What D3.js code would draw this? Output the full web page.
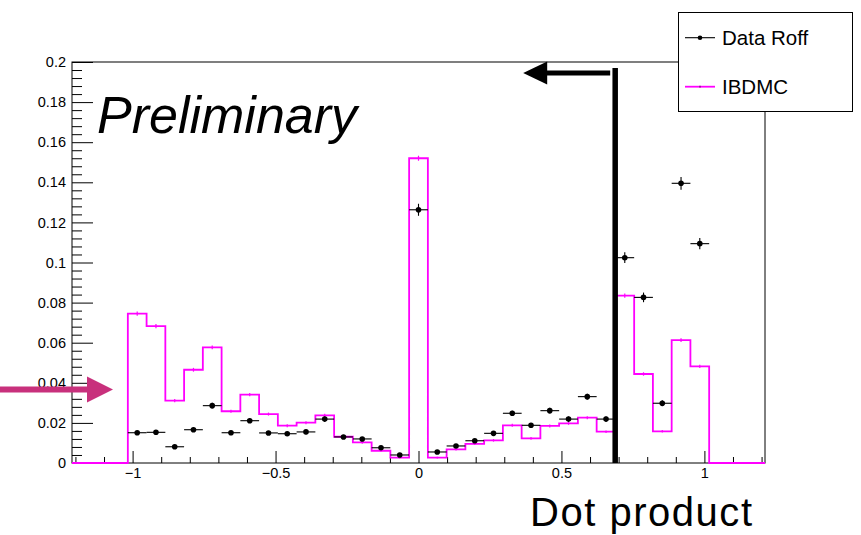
<!DOCTYPE html>
<html>
<head>
<meta charset="utf-8">
<script src="https://cdn.jsdelivr.net/npm/d3@7"></script>
<style>
  html, body { margin: 0; padding: 0; background: #fff; }
  svg { display: block; font-family: "Liberation Sans", Arial, Helvetica, sans-serif; }
</style>
</head>
<body>
<svg id="chart" width="861" height="535"></svg>
<script>
// Histogram binning (31 bins over the dot-product range)
const nBins = 31;
const binLow = -1.0167;
const binHigh = 1.0167;

// IBD Monte Carlo, normalised bin contents
const mcValues = [
  0.0745, 0.0683, 0.0311, 0.0465, 0.0577, 0.0258, 0.0341, 0.0244, 0.0186, 0.0201,
  0.0238, 0.0131, 0.0103, 0.0061, 0.0027, 0.1520, 0.0027, 0.0068, 0.0095, 0.0113,
  0.0188, 0.0123, 0.0185, 0.0198, 0.0226, 0.0156, 0.0835, 0.0444, 0.0158, 0.0613,
  0.0482
];
const mcErrors = [
  0.0008, 0.0008, 0.0006, 0.0007, 0.0007, 0.0005, 0.0006, 0.0005, 0.0005, 0.0005,
  0.0005, 0.0004, 0.0004, 0.0003, 0.0002, 0.0010, 0.0002, 0.0003, 0.0003, 0.0004,
  0.0005, 0.0004, 0.0005, 0.0005, 0.0005, 0.0004, 0.0008, 0.0006, 0.0004, 0.0007,
  0.0006
];

// Reactor-off data, normalised bin contents and statistical errors
const dataValues = [
  0.0151, 0.0153, 0.0081, 0.0166, 0.0286, 0.0151, 0.0211, 0.0150, 0.0146, 0.0155,
  0.0219, 0.0130, 0.0120, 0.0076, 0.0040, 0.1263, 0.0055, 0.0085, 0.0111, 0.0148,
  0.0248, 0.0188, 0.0261, 0.0219, 0.0331, 0.0219, 0.1024, 0.0826, 0.0298, 0.1395,
  0.1094
];
const dataErrors = [
  0.0010, 0.0011, 0.0008, 0.0011, 0.0014, 0.0010, 0.0012, 0.0010, 0.0010, 0.0011,
  0.0013, 0.0010, 0.0009, 0.0007, 0.0005, 0.0030, 0.0006, 0.0008, 0.0009, 0.0010,
  0.0013, 0.0012, 0.0014, 0.0013, 0.0015, 0.0013, 0.0027, 0.0024, 0.0015, 0.0032,
  0.0028
];

// Axis ticks
const xMajorTicks = [-1, -0.5, 0, 0.5, 1];
const xMinorTicks = [-1.2, -1.1, -0.9, -0.8, -0.7, -0.6, -0.4, -0.3, -0.2, -0.1,
                     0.1, 0.2, 0.3, 0.4, 0.6, 0.7, 0.8, 0.9, 1.1, 1.2];
const yMajorTicks = [0, 0.02, 0.04, 0.06, 0.08, 0.1, 0.12, 0.14, 0.16, 0.18, 0.2];
const yMinorTicks = d3.range(0, 0.2001, 0.004).filter(v => Math.abs(v / 0.02 - Math.round(v / 0.02)) > 1e-6);
const yTickLabels = ["0", "0.02", "0.04", "0.06", "0.08", "0.1", "0.12", "0.14", "0.16", "0.18", "0.2"];

// Selection cut on the dot product
const cutValue = 0.688;

const legendLabels = ["Data Roff", "IBDMC"];
const mcColor = "#ff00ff";
const arrowColor = "#c8307c";

const svg = d3.select("#chart");
const frame = { left: 72, right: 765, top: 62, bottom: 463 };

const x = d3.scaleLinear().domain([-1.212, 1.212]).range([frame.left, frame.right]);
const y = d3.scaleLinear().domain([0, 0.2]).range([frame.bottom, frame.top]);

const binWidth = (binHigh - binLow) / nBins;
const edges = d3.range(nBins + 1).map(i => binLow + i * binWidth);
const centers = d3.range(nBins).map(i => binLow + (i + 0.5) * binWidth);

// Frame
svg.append("rect")
  .attr("x", frame.left).attr("y", frame.top)
  .attr("width", frame.right - frame.left).attr("height", frame.bottom - frame.top)
  .attr("fill", "none").attr("stroke", "#000").attr("stroke-width", 1);

// X axis: major and minor ticks pointing inward
const xAxisMajor = d3.axisBottom(x).tickValues(xMajorTicks).tickSize(-12).tickPadding(5)
  .tickFormat(d3.format("~g"));
const xAxisMinor = d3.axisBottom(x).tickValues(xMinorTicks).tickSize(-6).tickFormat("");
const gxMinor = svg.append("g").attr("transform", `translate(0,${frame.bottom})`).call(xAxisMinor);
const gx = svg.append("g").attr("transform", `translate(0,${frame.bottom})`).call(xAxisMajor);
[gx, gxMinor].forEach(g => {
  g.select(".domain").remove();
  g.selectAll(".tick line").attr("stroke", "#000");
});
gx.selectAll(".tick text").attr("font-size", 14.5).attr("fill", "#000")
  .attr("font-family", "Liberation Sans, Arial, sans-serif");

// Y axis: major and minor ticks pointing inward
const yAxisMajor = d3.axisLeft(y).tickValues(yMajorTicks).tickSize(-21).tickPadding(6)
  .tickFormat((d, i) => yTickLabels[i]);
const yAxisMinor = d3.axisLeft(y).tickValues(yMinorTicks).tickSize(-10).tickFormat("");
const gyMinor = svg.append("g").attr("transform", `translate(${frame.left},0)`).call(yAxisMinor);
const gy = svg.append("g").attr("transform", `translate(${frame.left},0)`).call(yAxisMajor);
[gy, gyMinor].forEach(g => {
  g.select(".domain").remove();
  g.selectAll(".tick line").attr("stroke", "#000");
});
gy.selectAll(".tick text").attr("font-size", 14.5).attr("fill", "#000")
  .attr("font-family", "Liberation Sans, Arial, sans-serif");

// MC histogram as a step outline, including empty regions either side
const stepPts = [[x.domain()[0], 0], [edges[0], 0]];
mcValues.forEach((v, i) => {
  stepPts.push([edges[i], v]);
  stepPts.push([edges[i + 1], v]);
});
stepPts.push([edges[nBins], 0]);
stepPts.push([x.domain()[1], 0]);
svg.append("path")
  .attr("d", d3.line().x(d => x(d[0])).y(d => y(d[1]))(stepPts))
  .attr("fill", "none").attr("stroke", mcColor).attr("stroke-width", 1.8);

// MC error ticks
svg.append("g").selectAll("line").data(mcValues).join("line")
  .attr("x1", (d, i) => x(centers[i])).attr("x2", (d, i) => x(centers[i]))
  .attr("y1", (d, i) => y(d + mcErrors[i]) - 0.5).attr("y2", (d, i) => y(d - mcErrors[i]) + 0.5)
  .attr("stroke", mcColor).attr("stroke-width", 1.2);

// Data points with error bars
const gData = svg.append("g");
dataValues.forEach((v, i) => {
  const cx = x(centers[i]), cy = y(v);
  gData.append("line")
    .attr("x1", x(edges[i])).attr("x2", x(edges[i + 1]))
    .attr("y1", cy).attr("y2", cy)
    .attr("stroke", "#000").attr("stroke-width", 1.1);
  gData.append("line")
    .attr("x1", cx).attr("x2", cx)
    .attr("y1", y(v + dataErrors[i])).attr("y2", y(v - dataErrors[i]))
    .attr("stroke", "#000").attr("stroke-width", 1.1);
  gData.append("circle").attr("cx", cx).attr("cy", cy).attr("r", 2.8).attr("fill", "#000");
});

// Cut line with arrow pointing to the rejected side
const cutX = x(cutValue);
const arrowY = frame.top + 11;
svg.append("line")
  .attr("x1", cutX).attr("x2", cutX).attr("y1", frame.top + 6).attr("y2", frame.bottom)
  .attr("stroke", "#000").attr("stroke-width", 5.5);
svg.append("line")
  .attr("x1", cutX - 5).attr("x2", cutX - 70).attr("y1", arrowY).attr("y2", arrowY)
  .attr("stroke", "#000").attr("stroke-width", 5);
svg.append("path")
  .attr("d", `M${cutX - 92},${arrowY} L${cutX - 68},${arrowY - 11.5} L${cutX - 68},${arrowY + 11.5} Z`)
  .attr("fill", "#000");

// Arrow marking the level on the y axis
const markY = y(0.0366);
svg.append("line")
  .attr("x1", 0).attr("x2", 90).attr("y1", markY).attr("y2", markY)
  .attr("stroke", arrowColor).attr("stroke-width", 6);
svg.append("path")
  .attr("d", `M113,${markY} L87,${markY - 13} L87,${markY + 13} Z`)
  .attr("fill", arrowColor);

// Legend
const lg = svg.append("g");
lg.append("rect").attr("x", 678.5).attr("y", 12.5).attr("width", 174).attr("height", 99)
  .attr("fill", "#fff").attr("stroke", "#000").attr("stroke-width", 1);
lg.append("line").attr("x1", 685).attr("x2", 715).attr("y1", 37.7).attr("y2", 37.7)
  .attr("stroke", "#000").attr("stroke-width", 1.1);
lg.append("circle").attr("cx", 700).attr("cy", 37.7).attr("r", 2.3).attr("fill", "#000");
lg.append("line").attr("x1", 685).attr("x2", 715).attr("y1", 86.7).attr("y2", 86.7)
  .attr("stroke", mcColor).attr("stroke-width", 1.8);
lg.append("line").attr("x1", 700).attr("x2", 700).attr("y1", 85.7).attr("y2", 87.7)
  .attr("stroke", "#600060").attr("stroke-width", 1);
lg.selectAll("text").data(legendLabels).join("text")
  .attr("x", 722).attr("y", (d, i) => 45 + i * 49)
  .attr("font-size", 20.5).attr("fill", "#000").text(d => d);

// Labels
svg.append("text").attr("x", 97).attr("y", 133)
  .attr("font-size", 52).attr("font-style", "italic").attr("fill", "#000")
  .text("Preliminary");
svg.append("text").attr("x", 530).attr("y", 526)
  .attr("font-size", 40).attr("fill", "#000")
  .attr("textLength", 222).attr("lengthAdjust", "spacing")
  .text("Dot product");
</script>
</body>
</html>
